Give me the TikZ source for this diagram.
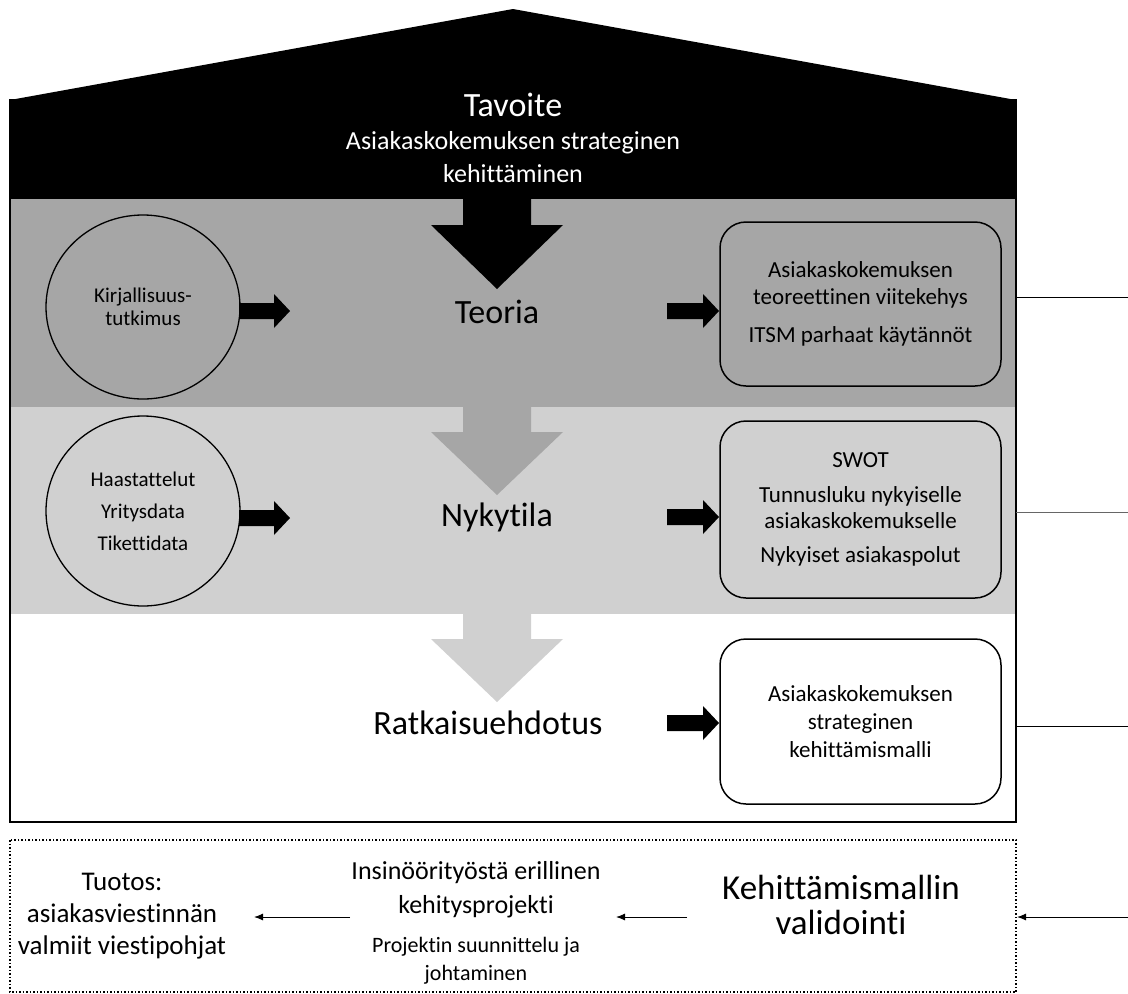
\documentclass[tikz,border=0pt]{standalone}
\usepackage{fontspec}
\setmainfont{Carlito}[Ligatures=NoCommon]
\usetikzlibrary{arrows.meta,shapes.geometric}
\definecolor{bandDark}{HTML}{A6A6A6}
\definecolor{bandLight}{HTML}{D0D0D0}
\newcommand{\fs}[2]{\fontsize{#1}{#2}\selectfont}
\newcommand{\bigdown}[4]{% color, top y, neck y, tip y
  \fill[#1] (463,#2) -- (531,#2) -- (531,#3) -- (563,#3) -- (497,#4) -- (431,#3) -- (463,#3) -- cycle;}
\newcommand{\smallright}[3]{% x start, x neck, y
  \fill[black] (#1,#3-8) -- (#2,#3-8) -- (#2,#3-17) -- (#2+16,#3) -- (#2,#3+17) -- (#2,#3+8) -- (#1,#3+8) -- cycle;}
\begin{document}
\begin{tikzpicture}[x=1pt,y=-1pt,
  circ/.style={ellipse,draw,line width=1.3pt,inner sep=0pt,align=center,font=\fs{21}{23}},
  rbox/.style={rectangle,rounded corners=26pt,draw,line width=1.5pt,minimum width=281pt,align=center,font=\fs{23}{27}},
  band/.style={font=\fs{34}{36}},
  thin/.style={line width=0.9pt},
  arr/.style={line width=1pt,-{Latex[length=9pt,width=7pt]}}]
\useasboundingbox (0,0) rectangle (1128,994);
\fill[white] (0,0) rectangle (1128,994);
% roof and black top
\fill[black] (10,100) -- (513,9) -- (1016,100) -- (1016,199) -- (10,199) -- cycle;
% bands
\fill[bandDark] (10,199) rectangle (1016,407);
\fill[bandLight] (10,407) rectangle (1016,614);
\draw[line width=1.5pt] (10,100) rectangle (1016,822);
% big downward arrows
\bigdown{black}{198}{225}{289}
\bigdown{bandDark}{406}{432}{495}
\bigdown{bandLight}{613}{639}{702}
% title
\node[text=white,font=\fs{34}{36}] (goal) at (513,105) {Tavoite};
\node[text=white,font=\fs{26}{33},align=center] (goalsub) at (513,157) {Asiakaskokemuksen strateginen\\kehittäminen};
% circles
\node[circ,fill=bandDark,minimum width=194pt,minimum height=184pt] (c1) at (143,307) {Kirjallisuus-\\tutkimus};
\node[circ,fill=bandLight,minimum width=194pt,minimum height=190pt,font=\fs{21}{32}] (c2) at (143,511) {Haastattelut\\Yritysdata\\Tikettidata};
% band labels
\node[band] (teoria) at (497,312) {Teoria};
\node[band] (nyky) at (497,517) {Nykytila};
\node[band] (ratk) at (488,723) {Ratkaisuehdotus};
% rounded boxes
\node[rbox,fill=bandDark,minimum height=164pt] (b1) at (860.5,304) {Asiakaskokemuksen\\teoreettinen viitekehys\\[11pt]ITSM parhaat käytännöt};
\node[rbox,fill=bandLight,minimum height=177pt,font=\fs{23}{26}] (b2) at (860.5,509.5) {SWOT\\[9pt]Tunnusluku nykyiselle\\asiakaskokemukselle\\[8pt]Nykyiset asiakaspolut};
\node[rbox,fill=white,minimum height=165pt,font=\fs{23}{28}] (b3) at (860.5,721.5) {Asiakaskokemuksen\\strateginen\\kehittämismalli};
% small block arrows
\smallright{239}{274}{311}
\smallright{239}{274}{518}
\smallright{667}{703}{311}
\smallright{667}{703}{517}
\smallright{667}{703}{723}
% right-side lines
\coordinate (l1) at (1016,297);
\coordinate (l2) at (1016,512);
\coordinate (l3) at (1016,726);
\coordinate (r1) at (1128,297);
\coordinate (r2) at (1128,512);
\coordinate (r3) at (1128,726);
\draw[thin] (l1) -- (r1);
\draw[thin,draw=black!60] (l2) -- (r2);
\draw[thin] (l3) -- (r3);
% bottom dotted box
\draw[line width=1.5pt,dotted] (10,840) rectangle (1016,992);
\node[align=center,font=\fs{27}{32}] (out) at (122,916) {Tuotos:\\asiakasviestinnän\\valmiit viestipohjat};
\node[align=center,font=\fs{26}{34}] (proj) at (476,890) {Insinöörityöstä erillinen\\kehitysprojekti};
\node[align=center,font=\fs{22}{28}] (projsub) at (476,961) {Projektin suunnittelu ja\\johtaminen};
\node[align=center,font=\fs{35}{35}] (valid) at (841,905) {Kehittämismallin\\validointi};
\coordinate (a3s) at (1128,917);
\coordinate (a3e) at (1017,917);
\coordinate (a2s) at (687,917);
\coordinate (a2e) at (616,917);
\coordinate (a1s) at (350,917);
\coordinate (a1e) at (254,917);
\draw[arr] (a3s) -- (a3e);
\draw[arr] (a2s) -- (a2e);
\draw[arr] (a1s) -- (a1e);
\end{tikzpicture}
\end{document}
